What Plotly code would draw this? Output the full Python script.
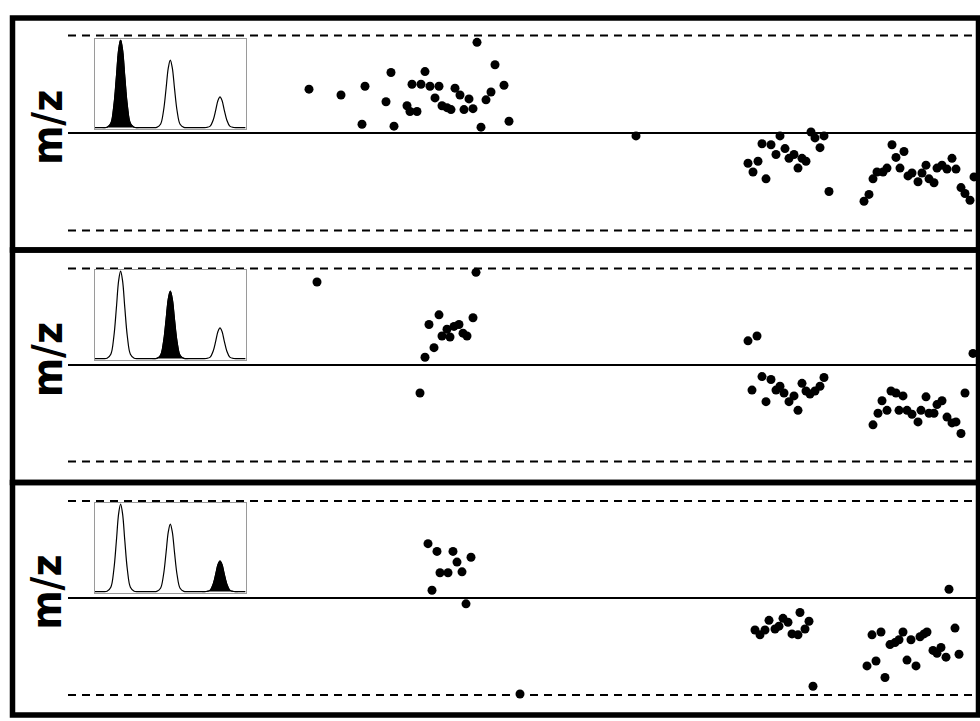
import plotly.graph_objects as go

W, H = 980, 721

# ---------------- data (retention time, mass error ppm) ----------------
p1_x = [30.9, 34.1, 36.5, 39.1, 36.2, 38.6, 39.4, 41.2, 42.1, 42.5, 43.0, 43.9, 40.7, 41.0,
        41.7, 43.5, 44.2, 44.7, 45.1, 45.5, 46.0, 46.4, 46.9, 47.3, 47.7, 49.5, 49.1, 48.6,
        50.4, 48.1, 50.9, 63.6,
        74.8, 75.3, 75.8, 76.6, 76.2, 77.1, 78.0, 77.6, 78.5, 78.9, 79.4, 79.8, 80.2, 80.6,
        81.1, 81.5, 82.4, 82.0, 82.9,
        86.4, 86.9, 87.3, 87.7, 88.3, 88.7, 89.2, 89.6, 90.4, 90.0, 90.8, 91.2, 91.8, 92.2,
        92.6, 92.9, 93.4, 93.7, 94.2, 94.7, 95.2, 95.6, 96.1, 96.5, 97.0, 97.4]
p1_y = [4.5, 3.9, 4.8, 6.2, 0.9, 3.2, 0.7, 5.0, 5.0, 6.3, 4.8, 4.8, 2.8, 2.2,
        2.2, 3.6, 2.8, 2.6, 2.4, 4.6, 3.9, 2.4, 3.5, 2.5, 9.3, 7.0, 4.2, 3.4,
        4.9, 0.6, 1.2, -0.3,
        -3.1, -4.0, -2.9, -4.7, -1.1, -1.2, -0.3, -2.2, -1.6, -2.6, -2.2, -3.6, -2.6, -2.9,
        0.1, -0.5, -0.3, -1.5, -6.0,
        -7.0, -6.3, -4.7, -4.0, -4.0, -3.6, -1.2, -2.5, -1.9, -3.6, -4.4, -4.1, -5.0, -4.1,
        -3.3, -4.7, -5.1, -3.6, -3.3, -3.7, -2.6, -3.7, -5.6, -6.2, -6.9, -4.5]

p2_x = [31.7, 47.6, 42.9, 43.9, 44.7, 44.2, 45.0, 45.4, 45.9, 46.3, 46.7, 47.3, 43.4, 42.5, 42.0,
        74.8, 75.7, 75.2, 76.2, 76.6, 77.1, 77.6, 78.0, 78.4, 78.9, 79.4, 79.8, 80.2, 80.6,
        81.0, 81.5, 82.0, 82.4, 97.3,
        87.3, 87.8, 88.2, 88.7, 89.1, 89.6, 90.3, 89.9, 90.7, 91.2, 91.8, 92.1, 92.6, 92.9,
        93.4, 93.7, 94.2, 94.7, 95.2, 95.6, 96.1, 96.5]
p2_y = [8.6, 9.6, 4.2, 5.2, 3.7, 3.0, 2.9, 4.0, 4.2, 3.3, 3.0, 4.9, 1.8, 0.8, -2.9,
        2.5, 3.0, -2.6, -1.2, -3.8, -1.5, -2.6, -2.2, -2.9, -3.8, -3.2, -4.7, -1.9, -2.7,
        -3.0, -2.7, -2.2, -1.3, 1.2,
        -6.2, -5.0, -3.7, -4.7, -2.7, -2.9, -3.2, -4.7, -4.7, -5.1, -5.9, -4.7, -3.3, -5.0,
        -5.0, -4.1, -3.7, -5.4, -6.0, -5.9, -7.1, -2.9]

p3_x = [42.8, 43.7, 45.3, 47.1, 45.7, 44.0, 44.8, 46.2, 43.2, 46.6, 52.0,
        94.9, 75.5, 76.0, 76.5, 76.9, 77.5, 77.9, 78.3, 78.8, 79.2, 79.8, 80.0, 80.5, 80.9, 81.3,
        86.7, 87.2, 87.6, 88.1, 88.5, 89.0, 89.5, 89.9, 90.3, 90.7, 91.1, 91.6, 92.0, 92.4,
        92.7, 93.3, 93.7, 94.1, 94.6, 95.5, 95.9]
p3_y = [5.6, 4.8, 4.8, 4.2, 3.7, 2.6, 2.6, 2.7, 0.8, -0.6, -9.9,
        0.9, -3.3, -3.8, -3.3, -2.3, -3.2, -2.9, -2.1, -2.5, -3.7, -3.8, -1.5, -3.2, -2.4, -9.1,
        -7.0, -3.8, -6.5, -3.5, -8.2, -4.8, -4.6, -4.3, -3.5, -6.4, -4.3, -7.0, -4.0, -3.7,
        -3.5, -5.4, -5.7, -5.1, -6.1, -3.1, -5.8]

tol_ppm = [10, -10]

# inset chromatogram (three peaks; one highlighted per panel)
peak_centers = [17, 50, 83]
peak_heights = [1.0, 0.77, 0.35]
profile_dx = [-12, -9, -6.5, -4.5, -2.8, -1.3, 0, 1.3, 2.8, 4.5, 6.5, 9, 12]
profile_rel = [0, 0.004, 0.05, 0.25, 0.58, 0.89, 1, 0.89, 0.58, 0.25, 0.05, 0.004, 0]
highlight = [0, 1, 2]

panels_x = [p1_x, p2_x, p3_x]
panels_y = [p1_y, p2_y, p3_y]

# ---------------- layout geometry (screen pixels) ----------------
box_tops = [18, 250, 482.5]
box_bots = [250, 482.5, 715]
centers = [133, 365, 598]
scales = [9.75, 9.65, 9.7]
inset_tops = [39, 270, 503]
inset_bots = [129, 360, 593]
inset_x0, inset_x1 = 95, 245.6
plot_x0, plot_x1 = 68, 980


def py(p):
    return 1 - p / H


def px(p):
    return p / W


fig = go.Figure()
layout = dict(width=W, height=H, margin=dict(l=0, r=0, t=0, b=0),
              paper_bgcolor="white", plot_bgcolor="rgba(0,0,0,0)", showlegend=False)
shapes = []
annotations = []

for k in range(3):
    n = k + 1
    xs = "" if n == 1 else str(n)
    xa, ya = "x" + xs, "y" + xs
    fig.add_trace(go.Scatter(x=panels_x[k], y=panels_y[k], mode="markers",
                             marker=dict(color="black", size=9, line=dict(width=0)),
                             xaxis=xa, yaxis=ya, hoverinfo="skip", cliponaxis=False))
    layout["xaxis" + xs] = dict(domain=[px(plot_x0), px(plot_x1)],
                                range=[plot_x0 / 10, plot_x1 / 10],
                                visible=False, fixedrange=True, anchor=ya)
    t, b, c, s = box_tops[k], box_bots[k], centers[k], scales[k]
    layout["yaxis" + xs] = dict(domain=[py(b), py(t)], range=[(c - b) / s, (c - t) / s],
                                visible=False, fixedrange=True, anchor=xa)
    # zero line and tolerance lines
    shapes.append(dict(type="line", xref=xa, yref=ya, x0=plot_x0 / 10, x1=plot_x1 / 10,
                       y0=0, y1=0, line=dict(color="black", width=2), layer="below"))
    for tv in tol_ppm:
        shapes.append(dict(type="line", xref=xa, yref=ya, x0=plot_x0 / 10, x1=plot_x1 / 10,
                           y0=tv, y1=tv, line=dict(color="black", width=1.9, dash="8px,6px"),
                           layer="below"))
    # panel frame
    shapes.append(dict(type="rect", xref="paper", yref="paper", x0=px(12.5), x1=px(978.5),
                       y0=py(b), y1=py(t), line=dict(color="black", width=5.5),
                       fillcolor="rgba(0,0,0,0)", layer="above"))
    annotations.append(dict(text="m/z", xref="paper", yref="paper", x=px(47),
                            y=py((t + b) / 2 - 6), textangle=-90, showarrow=False,
                            font=dict(family="DejaVu Sans Condensed", size=42, color="black",
                                      weight="bold"),
                            xanchor="center", yanchor="middle"))

    # inset chromatogram
    m = n + 3
    ix, iy = "x" + str(m), "y" + str(m)
    cx, cy = [0], [0]
    for pc, ph in zip(peak_centers, peak_heights):
        for dx, r in zip(profile_dx, profile_rel):
            cx.append(pc + dx)
            cy.append(ph * r)
    cx.append(100)
    cy.append(0)
    hp = highlight[k]
    fig.add_trace(go.Scatter(
        x=[peak_centers[hp] + dx for dx in profile_dx],
        y=[peak_heights[hp] * r for r in profile_rel],
        mode="lines", line=dict(color="black", width=1, shape="spline"),
        fill="toself", fillcolor="black", xaxis=ix, yaxis=iy, hoverinfo="skip"))
    fig.add_trace(go.Scatter(x=cx, y=cy, mode="lines",
                             line=dict(color="black", width=1.2, shape="spline"),
                             xaxis=ix, yaxis=iy, hoverinfo="skip"))
    layout["xaxis" + str(m)] = dict(domain=[px(inset_x0), px(inset_x1)], range=[0, 100],
                                    showline=True, mirror=True, linecolor="#9a9a9a",
                                    linewidth=1, showticklabels=False, ticks="",
                                    showgrid=False, zeroline=False, anchor=iy, fixedrange=True)
    layout["yaxis" + str(m)] = dict(domain=[py(inset_bots[k]), py(inset_tops[k])],
                                    range=[-0.016, 1.012],
                                    showline=True, mirror=True, linecolor="#9a9a9a",
                                    linewidth=1, showticklabels=False, ticks="",
                                    showgrid=False, zeroline=False, anchor=ix, fixedrange=True)

layout["shapes"] = shapes
layout["annotations"] = annotations
fig.update_layout(**layout)
fig.write_html("out.html", config={"displayModeBar": False, "staticPlot": True},
               post_script="document.body.style.margin='0';document.body.style.overflow='hidden';")
